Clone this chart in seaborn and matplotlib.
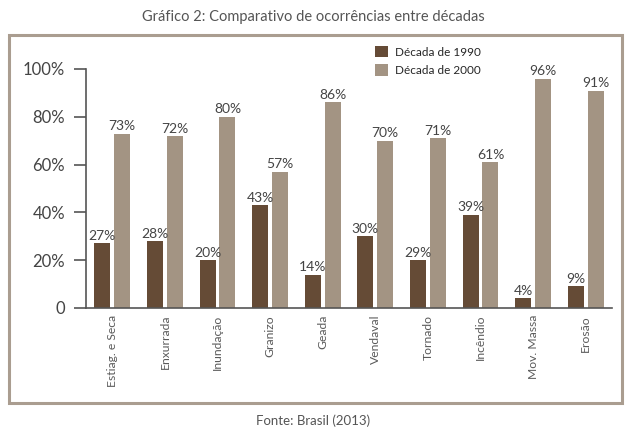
import matplotlib
matplotlib.use("Agg")
import matplotlib.pyplot as plt
from matplotlib.patches import Rectangle
from matplotlib.ticker import FixedLocator
import pandas as pd
import seaborn as sns

# ── Data ─────────────────────────────────────────────────────────────────────
categories = ["Estiag. e Seca", "Enxurrada", "Inundação", "Granizo", "Geada",
              "Vendaval", "Tornado", "Incêndio", "Mov. Massa", "Erosão"]
decades = ["Década de 1990", "Década de 2000"]
# bar heights as drawn (the Tornado bar is drawn at ~20 although labelled 29%)
heights_1990 = [27, 28, 20, 43, 14, 30, 20, 39, 4, 9]
labels_1990 = ["27%", "28%", "20%", "43%", "14%", "30%", "29%", "39%", "4%", "9%"]
values_2000 = [73, 72, 80, 57, 86, 70, 71, 61, 96, 91]
labels_2000 = [f"{v}%" for v in values_2000]
y_ticks = [0, 20, 40, 60, 80, 100]
y_tick_labels = ["0", "20%", "40%", "60%", "80%", "100%"]

# ── Style ────────────────────────────────────────────────────────────────────
DARK = "#654b36"
LIGHT = "#a39483"
FRAME = "#aa9d90"
AXIS = "#555555"
TEXT = "#444444"
W, H = 627, 430

df = pd.DataFrame({
    "categoria": categories * 2,
    "valor": heights_1990 + values_2000,
    "decada": [decades[0]] * len(categories) + [decades[1]] * len(categories),
})

sns.set_style("white")
plt.rcParams["font.family"] = ["Lato", "DejaVu Sans"]

fig = plt.figure(figsize=(W / 100, H / 100), dpi=100)
ax = fig.add_axes([86 / W, 1 - 308 / H, (612 - 86) / W, (308 - 69) / H])

sns.barplot(data=df, x="categoria", y="valor", hue="decada",
            palette=[DARK, LIGHT], saturation=1, width=0.76, gap=0.2,
            linewidth=0, ax=ax)

for container, labels in zip(ax.containers, [labels_1990, labels_2000]):
    ax.bar_label(container, labels=labels, padding=1, fontsize=10, color=TEXT)

ax.set_xlim(-0.5, len(categories) - 0.5)
ax.set_ylim(0, 100)
ax.set_yticks(y_ticks)
ax.set_yticklabels(y_tick_labels)
ax.set_xticks(range(len(categories)))
ax.set_xticklabels(categories, rotation=90)
ax.xaxis.set_minor_locator(FixedLocator([i - 0.5 for i in range(len(categories) + 1)]))
ax.set_xlabel("")
ax.set_ylabel("")

ax.tick_params(axis="x", which="major", length=0, pad=5, labelsize=8.7, labelcolor="#5a5a5a")
ax.tick_params(axis="x", which="minor", length=5, width=1.2, color=AXIS, direction="out")
ax.tick_params(axis="y", length=9, width=1.2, color=AXIS, pad=6, labelsize=12,
               labelcolor=TEXT, direction="out", left=True)

sns.despine(ax=ax)
for side in ["left", "bottom"]:
    ax.spines[side].set_color(AXIS)
    ax.spines[side].set_linewidth(1.2)

handles, labels = ax.get_legend_handles_labels()
ax.legend(handles, labels, loc="upper left",
          bbox_to_anchor=(375 / W, 1 - 46 / H), bbox_transform=fig.transFigure,
          frameon=False, fontsize=8.5, handlelength=1.1, handleheight=1.1,
          labelspacing=0.55, handletextpad=0.6, borderpad=0, borderaxespad=0)

# outer frame, title and source
fig.add_artist(Rectangle((9 / W, 1 - 403 / H), (622 - 9) / W, (403 - 35) / H,
                         transform=fig.transFigure, fill=False,
                         edgecolor=FRAME, linewidth=2.2))
fig.text(0.5, 1 - 17 / H, "Gráfico 2: Comparativo de ocorrências entre décadas",
         ha="center", va="center", fontsize=10.5, color="#555555")
fig.text(0.5, 1 - 421 / H, "Fonte: Brasil (2013)",
         ha="center", va="center", fontsize=9.5, color="#555555")

fig.savefig("out.png", dpi=100, facecolor="white")
